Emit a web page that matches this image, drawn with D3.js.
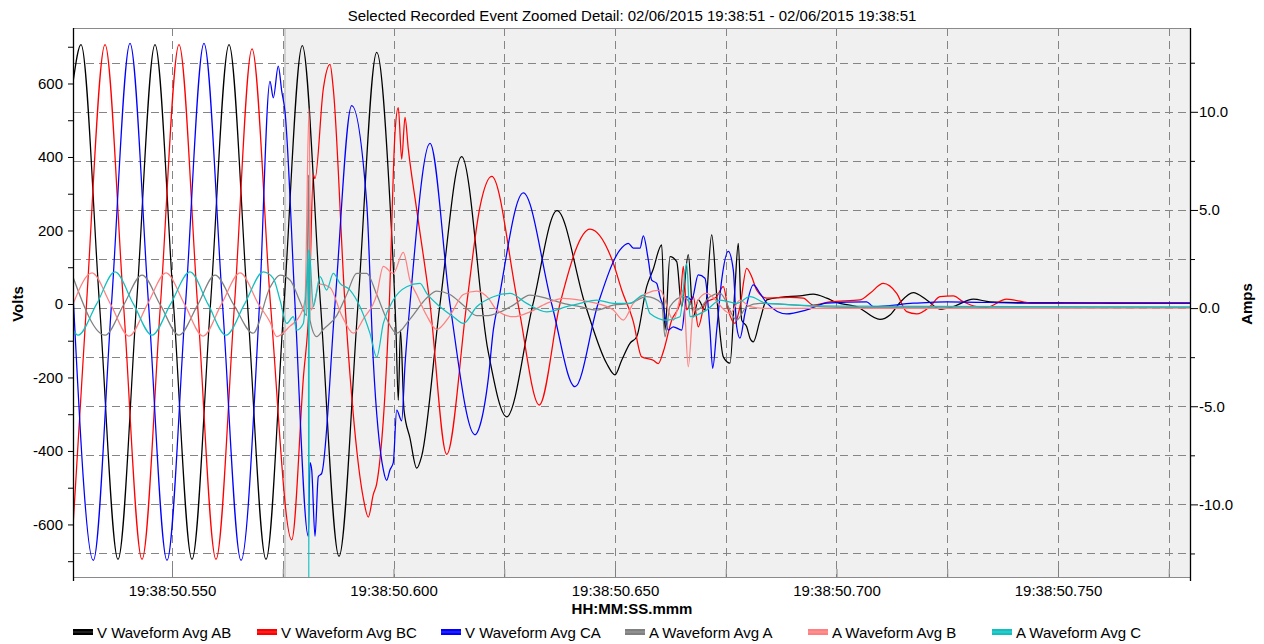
<!DOCTYPE html>
<html><head><meta charset="utf-8">
<script src="https://cdn.jsdelivr.net/npm/d3@7"></script>
<style>
body{margin:0;background:#fff;}
text{font-family:"Liberation Sans",Arial,sans-serif;fill:#000;}
</style></head><body>
<svg id="chart" width="1264" height="644"></svg>
<script>
// ---------- data ----------
const title = "Selected Recorded Event Zoomed Detail: 02/06/2015 19:38:51 - 02/06/2015 19:38:51";
const xAxisTitle = "HH:MM:SS.mmm";
const leftAxisTitle = "Volts";
const rightAxisTitle = "Amps";
// time in ms after 19:38:50.000
const timeDomain = [527.65, 779.8];
const voltDomain = [-743, 751];
const ampDomain = [-13.7, 14.27];
const shadeStart = 575.5;
const xMajorTicks = [550, 600, 650, 700, 750];
const xTickLabels = ["19:38:50.550", "19:38:50.600", "19:38:50.650", "19:38:50.700", "19:38:50.750"];
const xMinorTicks = [550, 575, 600, 625, 650, 675, 700, 725, 750, 775];
const voltTicks = [-600, -400, -200, 0, 200, 400, 600];
const voltTickLabels = ["-600", "-400", "-200", "0", "200", "400", "600"];
const voltMinorTicks = [-700, -500, -300, -100, 100, 300, 500, 700];
const ampTicks = [-10, -5, 0, 5, 10];
const ampTickLabels = ["-10.0", "-5.0", "0.0", "5.0", "10.0"];
const ampMinorTicks = [-12.5, -7.5, -2.5, 2.5, 7.5, 12.5];
const ampGrid = [-12.5, -10, -7.5, -5, -2.5, 0, 2.5, 5, 7.5, 10, 12.5];

const seriesNames = ["V Waveform Avg AB", "V Waveform Avg BC", "V Waveform Avg CA", "A Waveform Avg A", "A Waveform Avg B", "A Waveform Avg C"];
const seriesColors = ["#000000", "#ff0000", "#0000ff", "#808080", "#ff8080", "#10c0c0"];
const seriesAxis = ["V", "V", "V", "A", "A", "A"];

// [ms, volts]
const vAB = [[527.65,602],[529.46,706],[533.63,0],[537.81,-695],[541.99,0],[546.16,706],[550.34,0],[554.51,-695],[558.69,0],[562.87,706],[567.04,0],[571.22,-695],[575.28,0],[579.41,703],[583.52,0],[587.70,-687],[591.99,0],[596.21,685],[599.21,275],[600.56,-71],[601.08,-262],[601.58,-71],[602.37,-289],[603.72,-365],[605.24,-447],[606.36,-414],[610.50,0],[615.39,401],[621.33,-127],[625.55,-307],[631.49,0],[636.91,254],[643.23,0],[648.12,-162],[650.00,-193],[651.51,-153],[653.38,-107],[654.90,-89],[657.15,47],[658.58,93],[660.54,161],[661.29,-71],[662.41,129],[663.93,115],[665.05,-7],[666.54,134],[667.67,-35],[668.80,11],[670.31,-16],[671.83,188],[673.09,3],[674.45,-144],[675.96,-161],[677.09,47],[677.83,165],[678.60,-44],[679.73,-62],[680.47,-93],[681.22,-103],[682.73,-44],[684.24,11],[687.24,18],[691.76,22],[694.76,27],[697.79,16],[700.04,4],[704.56,-7],[709.82,-42],[712.07,-30],[714.33,4],[717.33,31],[720.36,11],[723.36,-14],[726.36,-7],[730.88,13],[734.65,6],[740.67,4],[751.96,4],[766.99,2],[779.79,2]];
const vBC = [[527.65,-607],[530.70,0],[534.88,706],[539.05,0],[543.23,-695],[547.40,0],[551.58,706],[555.76,0],[559.93,-695],[564.11,0],[568.06,694],[572.23,0],[577.02,-642],[579.64,-203],[580.99,8],[581.90,351],[582.28,341],[584.15,585],[585.67,652],[586.41,585],[589.05,0],[593.18,-528],[594.31,-580],[595.44,-518],[596.21,-489],[599.05,0],[600.34,466],[601.08,534],[601.85,394],[602.60,508],[603.34,422],[605.24,256],[608.24,0],[612.01,-409],[616.52,0],[619.53,265],[622.17,347],[628.10,0],[632.91,-275],[637.58,0],[644.36,204],[649.62,111],[651.51,38],[654.13,-48],[656.03,-144],[658.64,-153],[659.77,-162],[660.90,-130],[662.80,-44],[664.67,2],[665.42,102],[666.18,-16],[667.67,20],[668.80,-62],[670.31,2],[672.96,20],[674.45,47],[675.57,-16],[677.09,-53],[678.21,-7],[679.73,97],[680.86,74],[681.98,38],[684.24,16],[689.50,18],[692.51,16],[694.76,-3],[698.53,6],[705.30,11],[707.56,29],[710.56,56],[713.59,29],[715.84,-21],[718.10,-27],[721.10,-7],[723.36,20],[726.36,22],[728.62,6],[731.65,-7],[733.90,-9],[738.42,13],[744.42,2],[759.48,4],[779.79,2]];
const vCA = [[527.65,30],[532.24,-698],[536.34,0],[540.52,709],[544.70,0],[548.87,-698],[553.05,0],[557.22,709],[561.40,0],[565.58,-698],[569.75,0],[572.12,606],[572.87,561],[573.99,647],[574.76,580],[575.51,523],[577.76,0],[580.77,-632],[581.15,-432],[581.53,-451],[582.28,-632],[583.02,-470],[583.79,-461],[586.79,0],[590.56,540],[593.95,275],[595.44,-155],[597.70,-451],[598.46,-480],[599.21,-451],[599.95,-432],[600.72,-289],[601.85,-318],[602.60,-165],[603.72,0],[608.24,437],[612.75,0],[618.40,-356],[619.53,-330],[621.40,-203],[622.53,-71],[623.59,0],[629.30,302],[635.71,0],[640.97,-225],[646.16,0],[651.13,147],[653.00,165],[654.13,152],[655.64,152],[656.39,185],[657.52,120],[658.28,65],[659.41,56],[660.16,20],[660.90,-7],[662.03,-71],[663.16,-62],[665.05,-71],[666.18,20],[667.31,11],[668.80,79],[670.31,70],[671.44,-71],[672.05,-175],[672.96,-71],[674.08,65],[675.57,143],[676.70,93],[677.47,-62],[678.21,-93],[679.34,-25],[681.22,52],[682.73,29],[684.24,3],[688.76,-27],[693.27,-16],[697.79,2],[706.81,6],[708.31,-7],[717.33,2],[724.87,6],[744.42,2],[779.79,2]];
// [ms, amps]
const aA = [[527.65,1.58],[534.88,-1.38],[539.05,0.15],[543.23,1.68],[547.40,0.15],[551.58,-1.38],[555.76,0.15],[559.71,1.68],[564.00,0.15],[568.28,-1.28],[572.12,1.05],[574.38,1.68],[576.64,1.43],[578.89,0.34],[580.41,-0.38],[580.81,6.79],[581.15,-0.61],[582.66,-1.45],[584.15,-1.09],[587.18,-0.38],[589.43,0.69],[591.69,1.77],[593.95,1.77],[596.21,0.69],[598.46,-0.56],[600.72,-1.28],[603.72,-0.56],[607.49,0.51],[609.75,0.87],[612.75,0.69],[615.76,0.15],[618.78,-0.38],[621.40,-0.38],[623.29,-0.27],[627.04,0.15],[630.81,0.66],[634.58,0.49],[638.33,0.24],[642.10,0.07],[645.87,-0.10],[649.62,0.15],[653.38,0.24],[657.15,0.58],[660.54,0.24],[661.29,-1.46],[662.41,0.07],[665.42,0.58],[668.44,-0.10],[671.44,0.58],[673.70,0.75],[677.47,-0.61],[679.73,0.07],[682.73,0.24],[700.79,0.04],[779.79,0.05]];
const aB = [[527.65,0.20],[531.94,1.79],[536.12,0.20],[540.29,-1.43],[544.47,0.20],[548.65,1.79],[552.82,0.20],[557.00,-1.43],[561.17,0.20],[565.35,1.79],[569.53,0.20],[572.12,-0.71],[573.63,-1.45],[576.64,-0.92],[578.89,-0.38],[580.02,0.41],[580.93,10.17],[581.38,-0.10],[583.41,1.22],[585.67,1.05],[588.31,-0.38],[590.92,-1.28],[593.18,-0.56],[596.21,0.69],[597.70,2.13],[599.95,1.77],[602.21,2.84],[603.72,1.41],[605.24,0.69],[607.49,-0.38],[609.75,-1.09],[612.75,-0.38],[615.76,0.69],[618.78,0.87],[621.40,0.51],[623.29,-0.10],[627.04,-0.44],[630.81,-0.19],[634.58,0.24],[638.33,0.49],[642.10,0.41],[645.87,0.24],[649.62,-0.10],[651.87,-0.61],[654.13,0.24],[657.15,0.75],[660.16,0.92],[663.16,-0.61],[665.42,0.92],[666.54,-2.99],[667.67,-0.10],[670.70,0.75],[675.96,-0.27],[678.21,0.41],[680.47,0.07],[684.24,-0.02],[700.79,-0.02],[779.79,0.0]];
const aC = [[527.65,-1.12],[528.78,-1.38],[532.96,0.20],[537.13,1.84],[541.31,0.20],[545.49,-1.38],[549.66,0.20],[554.06,1.84],[558.13,0.20],[562.19,-1.38],[566.37,0.20],[570.61,1.85],[572.87,1.52],[574.38,0.41],[575.89,-0.78],[577.38,-0.44],[578.15,-1.12],[579.64,-0.78],[580.41,1.43],[580.79,2.96],[580.88,-15],[580.97,2.96],[581.90,0.07],[583.41,1.60],[584.92,0.92],[586.41,1.77],[587.92,1.26],[590.18,0.92],[592.44,0.07],[594.69,-1.29],[596.21,-2.5],[597.70,-0.78],[599.95,0.41],[602.98,1.09],[605.98,1.26],[607.49,0.75],[610.50,0.07],[613.50,-0.44],[615.76,-0.78],[618.78,0.07],[622.53,0.58],[626.30,0.75],[630.07,0.24],[634.58,-0.19],[639.09,0.07],[642.10,0.24],[645.87,0.41],[649.62,0.24],[653.38,0.24],[656.39,0.66],[657.90,-0.27],[661.67,-0.61],[664.67,-0.44],[666.18,2.28],[666.93,-0.44],[670.70,-0.10],[673.70,0.41],[677.47,0.24],[680.47,0.58],[684.24,0.24],[700.79,0.10],[779.79,0.05]];
const seriesData = [vAB, vBC, vCA, aA, aB, aC];

// ---------- chart ----------
const m = {left: 73, right: 1190, top: 28, bottom: 577};
const svg = d3.select("#chart");
const x = d3.scaleLinear().domain(timeDomain).range([m.left, m.right]);
const yV = d3.scaleLinear().domain(voltDomain).range([m.bottom, m.top]);
const yA = d3.scaleLinear().domain(ampDomain).range([m.bottom, m.top]);
const FONT = "Liberation Sans, Arial, sans-serif";

// backgrounds
svg.append("rect").attr("x", m.left).attr("y", m.top)
  .attr("width", x(shadeStart) - m.left).attr("height", m.bottom - m.top).attr("fill", "#ffffff");
svg.append("rect").attr("x", x(shadeStart)).attr("y", m.top)
  .attr("width", m.right - x(shadeStart)).attr("height", m.bottom - m.top).attr("fill", "#f0f0f0");

// grid
const grid = svg.append("g");
grid.selectAll("line.h").data(ampGrid).join("line").attr("class", "h")
  .attr("x1", m.left).attr("x2", m.right)
  .attr("y1", d => Math.round(yA(d)) + 0.5).attr("y2", d => Math.round(yA(d)) + 0.5)
  .attr("stroke", "#858585").attr("stroke-dasharray", "8,5");
grid.selectAll("line.v").data(xMinorTicks).join("line").attr("class", "v")
  .attr("x1", d => Math.round(x(d)) + 0.5).attr("x2", d => Math.round(x(d)) + 0.5)
  .attr("y1", m.top).attr("y2", m.bottom)
  .attr("stroke", "#858585").attr("stroke-dasharray", "8,5");
svg.append("line").attr("x1", x(shadeStart)).attr("x2", x(shadeStart))
  .attr("y1", m.top).attr("y2", m.bottom).attr("stroke", "#c4c4c4").attr("stroke-width", 1.5);

// clip
svg.append("clipPath").attr("id", "clip").append("rect")
  .attr("x", m.left).attr("y", m.top).attr("width", m.right - m.left).attr("height", m.bottom - m.top);

const plot = svg.append("g").attr("clip-path", "url(#clip)");
seriesData.forEach((data, i) => {
  const ys = seriesAxis[i] === "V" ? yV : yA;
  const line = d3.line().x(d => x(d[0])).y(d => ys(d[1])).curve(d3.curveMonotoneX);
  plot.append("path").datum(data).attr("d", line)
    .attr("fill", "none").attr("stroke", seriesColors[i]).attr("stroke-width", 1.25)
    .attr("stroke-linejoin", "round");
});

// frame
svg.append("line").attr("x1", m.left).attr("x2", m.right).attr("y1", m.top + 0.5).attr("y2", m.top + 0.5).attr("stroke", "#8a8a8a");
svg.append("line").attr("x1", m.left).attr("x2", m.right).attr("y1", m.bottom + 0.5).attr("y2", m.bottom + 0.5).attr("stroke", "#8a8a8a");

// bottom axis: minor ticks inside, labels
const xMinorAxis = d3.axisBottom(x).tickValues(xMinorTicks).tickSize(-8).tickFormat("");
const gxm = svg.append("g").attr("transform", `translate(0,${m.bottom})`).call(xMinorAxis);
gxm.select(".domain").remove();
gxm.selectAll("line").attr("stroke", "#808080");
const xAxis = d3.axisBottom(x).tickValues(xMajorTicks).tickSize(0).tickPadding(8)
  .tickFormat((d, i) => xTickLabels[i]);
const gx = svg.append("g").attr("transform", `translate(0,${m.bottom})`).call(xAxis);
gx.select(".domain").remove();
gx.selectAll("text").attr("font-size", 15).attr("font-family", FONT).attr("fill", "#000");

// left axis
const yAxisL = d3.axisLeft(yV).tickValues(voltTicks).tickSize(5).tickPadding(5)
  .tickFormat((d, i) => voltTickLabels[i]);
const gyl = svg.append("g").attr("transform", `translate(${m.left},0)`).call(yAxisL);
gyl.select(".domain").remove();
gyl.selectAll("text").attr("font-size", 15).attr("font-family", FONT).attr("fill", "#000");
const gylm = svg.append("g").attr("transform", `translate(${m.left},0)`)
  .call(d3.axisLeft(yV).tickValues(voltMinorTicks).tickSize(5).tickFormat(""));
gylm.select(".domain").remove();
svg.append("line").attr("x1", m.left + 0.5).attr("x2", m.left + 0.5).attr("y1", m.top).attr("y2", m.bottom + 4).attr("stroke", "#000").attr("stroke-width", 1.3);

// right axis
const yAxisR = d3.axisRight(yA).tickValues(ampTicks).tickSize(8).tickPadding(1)
  .tickFormat((d, i) => ampTickLabels[i]);
const gyr = svg.append("g").attr("transform", `translate(${m.right},0)`).call(yAxisR);
gyr.select(".domain").remove();
gyr.selectAll("text").attr("font-size", 15).attr("font-family", FONT).attr("fill", "#000");
const gyrm = svg.append("g").attr("transform", `translate(${m.right},0)`)
  .call(d3.axisRight(yA).tickValues(ampMinorTicks).tickSize(5).tickFormat(""));
gyrm.select(".domain").remove();
svg.append("line").attr("x1", m.right + 0.5).attr("x2", m.right + 0.5).attr("y1", m.top).attr("y2", m.bottom + 4).attr("stroke", "#000").attr("stroke-width", 1.3);

// titles
svg.append("text").attr("x", 632).attr("y", 21).attr("text-anchor", "middle")
  .attr("font-size", 15).text(title);
svg.append("text").attr("x", 632).attr("y", 614).attr("text-anchor", "middle")
  .attr("font-size", 15).attr("font-weight", "bold").text(xAxisTitle);
svg.append("text").attr("transform", "translate(23,304) rotate(-90)").attr("text-anchor", "middle")
  .attr("font-size", 15).attr("font-weight", "bold").text(leftAxisTitle);
svg.append("text").attr("transform", "translate(1252,304) rotate(-90)").attr("text-anchor", "middle")
  .attr("font-size", 15).attr("font-weight", "bold").text(rightAxisTitle);

// legend
const legendX = [73, 257, 441, 625, 808, 992];
const lg = svg.append("g");
seriesNames.forEach((name, i) => {
  const g = lg.append("g").attr("transform", `translate(${legendX[i]},632)`);
  g.append("rect").attr("x", 0).attr("y", -3).attr("width", 20).attr("height", 6).attr("fill", seriesColors[i]);
  g.append("line").attr("x1", 0).attr("x2", 20).attr("y1", 0).attr("y2", 0)
    .attr("stroke", "#ffffff").attr("stroke-opacity", 0.25).attr("stroke-width", 1);
  g.append("text").attr("x", 24).attr("y", 5.5).attr("font-size", 15).text(name);
});
</script>
</body></html>
